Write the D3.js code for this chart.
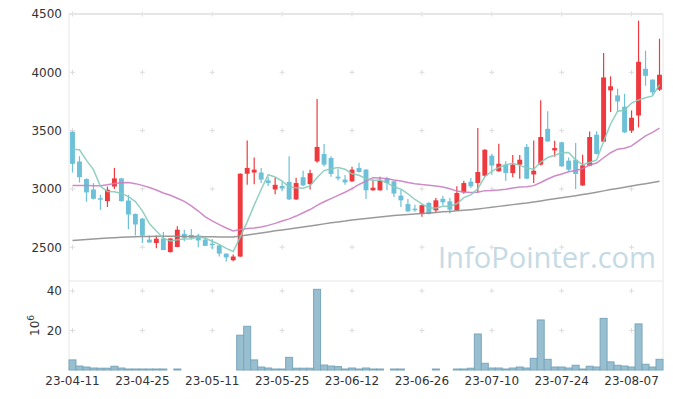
<!DOCTYPE html>
<html>
<head>
<meta charset="utf-8">
<script src="https://cdn.jsdelivr.net/npm/d3@7"></script>
<style>
  body { margin: 0; background: #fff; }
  .tick text { font-family: "DejaVu Sans", sans-serif; font-size: 12px; fill: #333; }
</style>
</head>
<body>
<div id="chart"></div>
<script>
const dates = ["23-04-11","23-04-12","23-04-13","23-04-14","23-04-17","23-04-18","23-04-19","23-04-20","23-04-21","23-04-24",
  "23-04-25","23-04-26","23-04-27","23-04-28","23-05-02","23-05-03","23-05-04","23-05-08","23-05-09","23-05-10",
  "23-05-11","23-05-12","23-05-15","23-05-16","23-05-17","23-05-18","23-05-19","23-05-22","23-05-23","23-05-24",
  "23-05-25","23-05-26","23-05-30","23-05-31","23-06-01","23-06-02","23-06-05","23-06-07","23-06-08","23-06-09",
  "23-06-12","23-06-13","23-06-14","23-06-15","23-06-16","23-06-19","23-06-20","23-06-21","23-06-22","23-06-23",
  "23-06-26","23-06-27","23-06-28","23-06-29","23-06-30","23-07-03","23-07-04","23-07-05","23-07-06","23-07-07",
  "23-07-10","23-07-11","23-07-12","23-07-13","23-07-14","23-07-17","23-07-18","23-07-19","23-07-20","23-07-21",
  "23-07-24","23-07-25","23-07-26","23-07-27","23-07-28","23-07-31","23-08-01","23-08-02","23-08-03","23-08-04",
  "23-08-07","23-08-08","23-08-09","23-08-10","23-08-11"];

const open = [3490,3235,3085,2995,2920,2895,3020,3090,2900,2785,2745,2565,2536,2575,2458,2502,2615,2605,2600,2565,
  2530,2515,2445,2388,2420,3130,3140,3140,3073,2995,3025,3060,2910,3100,3042,3236,3300,3265,3105,3080,
  3065,3180,3165,2988,2988,3093,3065,2942,2870,2830,2785,2880,2816,2915,2893,2816,2970,3062,3051,3113,
  3285,3151,3208,3136,3208,3360,3124,3208,3515,3330,3400,3242,3250,3030,3199,3465,3405,3845,3802,3705,
  3500,3630,4030,3937,3851];
const high = [3495,3280,3090,3050,2950,3020,3180,3095,2950,2790,2750,2600,2600,2630,2575,2680,2650,2655,2615,2580,
  2570,2520,2445,2437,3135,3415,3270,3180,3105,3095,3060,3280,3095,3155,3165,3770,3385,3280,3170,3120,
  3190,3225,3170,3080,3105,3105,3070,2993,2913,2865,2865,2885,2922,2942,2922,3022,3070,3093,3522,3340,
  3302,3388,3236,3290,3290,3385,3416,3760,3665,3413,3405,3270,3393,3293,3493,3495,4166,3965,3860,3815,
  3673,4443,4185,3940,4288];
const low = [3140,3055,2890,2910,2820,2845,3000,2890,2655,2600,2535,2540,2490,2475,2455,2500,2550,2565,2500,2510,
  2485,2420,2378,2380,2415,3035,3040,3050,3025,2955,2985,2905,2905,3025,2995,3225,3193,3105,3072,3035,
  3060,3140,2913,2985,2985,2988,2930,2845,2805,2805,2760,2780,2798,2857,2788,2812,2958,3008,2970,3105,
  3122,3148,3070,3100,3088,3085,3050,3200,3405,3275,3190,3150,3000,3025,3195,3295,3400,3660,3665,3480,
  3480,3527,3885,3808,3840];
const close = [3215,3100,2970,2915,2910,2993,3090,2895,2780,2695,2600,2540,2573,2475,2575,2650,2580,2580,2558,2512,
  2525,2445,2412,2420,3130,3180,3165,3080,3050,3035,3005,2910,3050,3030,3135,3360,3208,3128,3090,3056,
  3165,3145,2988,3010,3070,3050,2960,2902,2807,2825,2860,2785,2902,2885,2822,2965,3050,3022,3145,3336,
  3200,3216,3136,3208,3250,3088,3156,3445,3407,3350,3193,3165,3128,3202,3445,3300,3956,3880,3750,3485,
  3610,4090,3970,3828,3979];

// volume in millions of shares
const volume = [5.1,2.0,1.5,1.0,0.9,0.9,1.9,1.0,0.5,0.5,0.5,0.5,0.5,0.5,0,0.5,0,0,0,0,
  0,0,0,0,17.6,22.1,5.1,1.5,1.0,0.5,0.5,6.4,0.9,0.9,0.9,40.8,2.5,2.0,1.7,0.5,
  1.0,0.5,1.0,0.5,0.5,0,0.5,0.5,0,0,0,0,0.5,0,0,0.5,0.5,0.9,18.2,3.4,
  1.0,1.0,0.5,1.0,1.5,1.0,5.9,25.3,5.4,1.5,1.5,1.0,2.4,0.5,1.9,1.5,26.1,4.1,2.4,2.0,
  1.5,23.3,2.9,1.5,5.4];

const ma5 = [3340,3335,3245,3165,3022,2978,2976,2961,2934,2891,2812,2702,2638,2577,2553,2563,2571,2572,2589,2576,
  2551,2524,2490,2463,2586,2717,2861,2995,3121,3102,3067,3016,3010,3006,3026,3097,3157,3172,3184,3168,
  3129,3117,3089,3073,3076,3053,3016,2998,2958,2909,2871,2836,2836,2851,2851,2872,2925,2949,3001,3104,
  3151,3184,3207,3219,3202,3180,3168,3229,3269,3289,3310,3312,3249,3208,3227,3248,3406,3557,3666,3674,
  3736,3763,3781,3797,3895];
const ma20 = [3030,3030,3029,3028,3027,3035,3047,3053,3055,3045,3030,3012,2990,2965,2945,2920,2893,2855,2810,2760,
  2726,2693,2665,2640,2651,2661,2665,2674,2687,2704,2725,2743,2767,2795,2823,2858,2890,2917,2944,2971,
  3003,3038,3067,3096,3093,3087,3076,3067,3055,3045,3037,3031,3024,3017,3001,2981,2973,2968,2971,2985,
  2986,2990,2997,3007,3016,3018,3028,3055,3085,3111,3128,3147,3158,3174,3205,3222,3267,3310,3341,3348,
  3369,3412,3454,3485,3521];
const maLong = [2558,2562,2566,2570,2574,2578,2582,2585,2588,2590,2591,2592,2593,2593,2593,2593,2592,2592,2591,2590,
  2589,2588,2588,2588,2596,2605,2614,2622,2631,2640,2648,2656,2664,2673,2682,2691,2700,2709,2717,2724,
  2733,2739,2746,2753,2759,2765,2771,2776,2780,2785,2789,2794,2798,2803,2807,2812,2817,2822,2828,2835,
  2843,2850,2857,2865,2872,2879,2888,2897,2906,2915,2924,2933,2942,2951,2961,2972,2983,2994,3004,3015,
  3025,3035,3045,3055,3065];

const priceTicks = [2500, 3000, 3500, 4000, 4500];
const volTicks = [20, 40];
const dateTicks = dates.filter((d, i) => i % 10 === 0);

const width = 673, height = 399;
const left = 69, right = 663;
const priceTop = 14, priceBottom = 281, volBottom = 370;

const svg = d3.select("#chart").append("svg")
  .attr("width", width).attr("height", height);

const x = d3.scaleBand().domain(dates).range([left, right])
  .paddingInner(0.3).paddingOuter(0.15);
const cx = d => x(d) + x.bandwidth() / 2;

const y = d3.scaleLinear().domain([2210, 4500]).range([priceBottom, priceTop]);
const yv = d3.scaleLinear().domain([0, 45]).range([volBottom, priceBottom]);

const rows = dates.map((d, i) => ({
  date: d, o: open[i], h: high[i], l: low[i], c: close[i], v: volume[i]
}));

// grid crosses
const grid = svg.append("g").attr("stroke", "#dcdcdc").attr("stroke-width", 1);
const crosses = [];
dateTicks.forEach(d => {
  priceTicks.forEach(p => crosses.push([cx(d), y(p)]));
  volTicks.forEach(v => crosses.push([cx(d), yv(v)]));
});
crosses.forEach(([px, py]) => {
  grid.append("line").attr("x1", px - 2.5).attr("x2", px + 2.5).attr("y1", py).attr("y2", py);
  grid.append("line").attr("x1", px).attr("x2", px).attr("y1", py - 2.5).attr("y2", py + 2.5);
});

// frame
const frame = svg.append("g").attr("stroke", "#e6e6e6").attr("fill", "none");
frame.append("line").attr("x1", left).attr("x2", right).attr("y1", priceTop).attr("y2", priceTop).attr("stroke-width", 2);
frame.append("line").attr("x1", left).attr("x2", right).attr("y1", priceBottom).attr("y2", priceBottom);
frame.append("line").attr("x1", left).attr("x2", left).attr("y1", priceTop).attr("y2", volBottom);
frame.append("line").attr("x1", right).attr("x2", right).attr("y1", priceTop).attr("y2", volBottom);

// watermark
svg.append("text")
  .attr("x", 438).attr("y", 268)
  .attr("textLength", 218).attr("lengthAdjust", "spacingAndGlyphs")
  .style("font-family", "'Open Sans', sans-serif").style("font-size", "30px")
  .attr("fill", "#c5dae4")
  .text("InfoPointer.com");

// volume bars
svg.append("g").selectAll("rect")
  .data(rows.filter(d => d.v > 0))
  .join("rect")
  .attr("x", d => cx(d.date) - x.step() / 2)
  .attr("width", x.step())
  .attr("y", d => yv(d.v))
  .attr("height", d => yv(0) - yv(d.v))
  .attr("fill", "#98bfd0")
  .attr("stroke", "#7aa6bc")
  .attr("stroke-width", 1);

// candles
const up = "#ee3a3f", down = "#6cc0d8";
const candles = svg.append("g").selectAll("g").data(rows).join("g");
candles.append("line")
  .attr("x1", d => cx(d.date)).attr("x2", d => cx(d.date))
  .attr("y1", d => y(d.h)).attr("y2", d => y(d.l))
  .attr("stroke", d => d.c >= d.o ? up : down).attr("stroke-width", 1.2);
candles.append("rect")
  .attr("x", d => x(d.date))
  .attr("width", x.bandwidth())
  .attr("y", d => y(Math.max(d.o, d.c)))
  .attr("height", d => Math.max(1.5, Math.abs(y(d.o) - y(d.c))))
  .attr("fill", d => d.c >= d.o ? up : down);

// moving averages
const line = d3.line().x((v, i) => cx(dates[i])).y(v => y(v));
[[maLong, "#8f8f8f"], [ma20, "#c97ec2"], [ma5, "#86cbb9"]].forEach(([s, col]) => {
  svg.append("path").datum(s)
    .attr("d", line)
    .attr("fill", "none")
    .attr("stroke", col)
    .attr("stroke-width", 1.5)
    .attr("opacity", 0.9);
});

// axes
const yAxis = svg.append("g").attr("transform", `translate(${left},0)`)
  .call(d3.axisLeft(y).tickValues(priceTicks).tickFormat(d3.format("d")).tickSize(0).tickPadding(7));
yAxis.select(".domain").remove();

const vAxis = svg.append("g").attr("transform", `translate(${left},0)`)
  .call(d3.axisLeft(yv).tickValues(volTicks).tickFormat(d3.format("d")).tickSize(0).tickPadding(7));
vAxis.select(".domain").remove();

const xAxis = svg.append("g").attr("transform", `translate(0,${volBottom})`)
  .call(d3.axisBottom(x).tickValues(dateTicks).tickSize(0).tickPadding(6));
xAxis.select(".domain").remove();

// volume unit
const unit = svg.append("text")
  .attr("transform", "translate(39,336) rotate(-90)")
  .style("font-family", "'DejaVu Sans', sans-serif").style("font-size", "12px")
  .attr("fill", "#333");
unit.append("tspan").text("10");
unit.append("tspan").attr("dy", -5).style("font-size", "9px").text("6");
</script>
</body>
</html>
